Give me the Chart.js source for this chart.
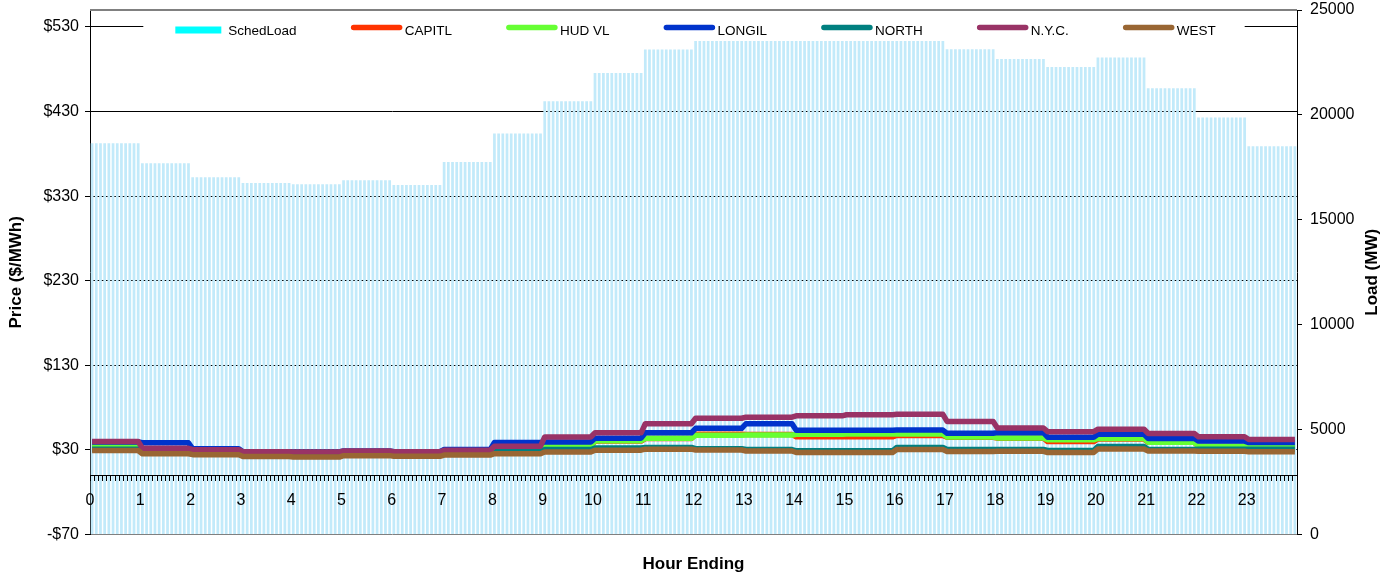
<!DOCTYPE html>
<html>
<head>
<meta charset="utf-8">
<script src="https://cdn.jsdelivr.net/npm/chart.js@4.4.1/dist/chart.umd.min.js"></script>
<style>
  html, body { margin: 0; padding: 0; background: #fff; }
</style>
</head>
<body>
<canvas id="myChart" width="1387" height="577"></canvas>
<script>
// hourly values, hour 0..23
const hours = [0, 1, 2, 3, 4, 5, 6, 7, 8, 9, 10, 11, 12, 13, 14, 15, 16, 17, 18, 19, 20, 21, 22, 23];
const schedLoad = [18650, 17700, 17030, 16760, 16700, 16890, 16660, 17760, 19110, 20650, 22000, 23120,
                   23520, 23520, 23520, 23520, 23520, 23130, 22660, 22280, 22740, 21270, 19880, 18510];
const capitl = [34.5, 31, 30, 27.5, 27, 28, 27.5, 29, 31.5, 34.5, 40.5, 43.5, 48.5, 48.2, 45.7, 45.6, 47.2, 45, 44, 40, 43, 39, 34.5, 34];
const hudVl  = [35, 31, 30, 27.5, 27, 28, 27.5, 29, 32, 35, 41, 43.8, 47.4, 47.6, 48.6, 49, 49, 45.4, 44.3, 42, 43.6, 39.2, 34.5, 34.2];
const longil = [39.5, 38.5, 31.5, 28, 27.6, 28.8, 28, 30.5, 38.9, 39.5, 44, 50.3, 55.6, 61, 53.3, 53.3, 53.5, 49.7, 50.5, 45.1, 48.5, 43.6, 40.5, 38.8];
const north  = [31, 28, 27, 25, 24.5, 26, 25, 27, 29, 30.5, 32.3, 33, 31.5, 30.5, 29, 29, 33, 30.5, 30.5, 29.5, 34.2, 30.5, 31, 31];
const nyc    = [40.1, 32, 30.4, 28, 27.6, 28.8, 28, 29.6, 34.5, 45.4, 50.3, 61, 67.5, 68.8, 70.4, 71.6, 72.2, 63.7, 56, 51.7, 54.5, 49.5, 45.6, 42.3];
const west   = [29.4, 25.5, 24.5, 22.3, 21.7, 23.3, 22.5, 24, 25.6, 27.6, 29.8, 31, 30, 28.8, 27, 27, 30.6, 28.2, 28.4, 27, 31.2, 28.7, 28.5, 27.8];

const priceTicks = [-70, 30, 130, 230, 330, 430, 530];
const loadTicks = [0, 5000, 10000, 15000, 20000, 25000];
const intervalsPerHour = 12;

// each hourly value is held over its twelve 5-minute intervals
function perInterval(values) {
    const out = [];
    values.forEach((v, h) => {
        for (let k = 0; k < intervalsPerHour; k++) {
            out.push({ x: hours[h] + (k + 0.5) / intervalsPerHour, y: v });
        }
    });
    return out;
}

const hourTicks = [];
for (let i = 0; i <= hours.length * intervalsPerHour; i++) hourTicks.push(i / intervalsPerHour);

function priceLine(label, values, color, order) {
    return {
        type: 'line',
        label: label,
        data: perInterval(values),
        yAxisID: 'y',
        borderColor: color,
        backgroundColor: color,
        borderWidth: 5.5,
        borderJoinStyle: 'round',
        pointRadius: 0,
        tension: 0,
        order: order,
    };
}

const FONT = 'Arial, "Liberation Sans", sans-serif';

// legend drawn inside the plot, on a white band
const insideLegend = {
    id: 'insideLegend',
    afterDraw(chart) {
        const { ctx, chartArea } = chart;
        const sets = chart.data.datasets;
        ctx.save();
        ctx.font = '13.5px ' + FONT;
        const symW = 50, textGap = 3, itemGap = 55;
        const widths = sets.map(d => symW + textGap + ctx.measureText(d.label).width);
        const total = widths.reduce((a, b) => a + b, 0) + itemGap * (sets.length - 1);
        let x = (chartArea.left + chartArea.right) / 2 - total / 2 + 2;
        const y = chartArea.top + 20.5;
        ctx.fillStyle = '#fff';
        ctx.fillRect(x - 32, chartArea.top + 8, total + 61, 22);
        sets.forEach((d, i) => {
            if (d.type === 'line') {
                ctx.strokeStyle = d.borderColor;
                ctx.lineWidth = 5.5;
                ctx.lineCap = 'round';
                ctx.beginPath();
                ctx.moveTo(x + 2, y - 3);
                ctx.lineTo(x + 48, y - 3);
                ctx.stroke();
            } else {
                ctx.fillStyle = '#00ffff';
                ctx.fillRect(x, y - 4, 46, 7);
            }
            ctx.fillStyle = '#000';
            ctx.textBaseline = 'middle';
            ctx.textAlign = 'left';
            ctx.fillText(d.label, x + symW + textGap, y + 0.5);
            x += widths[i] + itemGap;
        });
        ctx.restore();
    }
};

// gray top border + right axis title (reads bottom to top)
const frameExtras = {
    id: 'frameExtras',
    afterDraw(chart) {
        const { ctx, chartArea } = chart;
        ctx.save();
        ctx.strokeStyle = '#808080';
        ctx.lineWidth = 2;
        ctx.beginPath();
        ctx.moveTo(chartArea.left, chartArea.top);
        ctx.lineTo(chartArea.right, chartArea.top);
        ctx.stroke();
        ctx.translate(chart.width - 15, (chartArea.top + chartArea.bottom) / 2);
        ctx.rotate(-Math.PI / 2);
        ctx.font = 'bold 17px ' + FONT;
        ctx.fillStyle = '#000';
        ctx.textAlign = 'center';
        ctx.textBaseline = 'middle';
        ctx.fillText('Load (MW)', 0, 0);
        ctx.restore();
    }
};

function fixSide(s) {
    s.width = 90;
    s.paddingTop = 0;
    s.paddingBottom = 0;
}

const ctx = document.getElementById('myChart');

new Chart(ctx, {
    type: 'bar',
    data: {
        datasets: [
            {
                type: 'bar',
                label: 'SchedLoad',
                data: perInterval(schedLoad),
                yAxisID: 'y2',
                backgroundColor: '#c2eafa',
                borderWidth: 0,
                barPercentage: 0.65,
                categoryPercentage: 1,
                order: 10,
            },
            priceLine('CAPITL', capitl, '#ff3300', 6),
            priceLine('HUD VL', hudVl, '#66ff33', 5),
            priceLine('LONGIL', longil, '#0033cc', 4),
            priceLine('NORTH', north, '#008080', 3),
            priceLine('N.Y.C.', nyc, '#993366', 2),
            priceLine('WEST', west, '#996633', 1),
        ]
    },
    options: {
        responsive: false,
        devicePixelRatio: 1,
        animation: false,
        layout: { padding: { top: 10, left: 0, right: 0, bottom: 0 } },
        plugins: {
            legend: { display: false },
            tooltip: { enabled: false },
            title: {
                display: true,
                position: 'bottom',
                text: 'Hour Ending',
                color: '#000',
                font: { family: FONT, size: 17, weight: 'bold' },
                padding: { top: 20, bottom: 2 },
            },
        },
        scales: {
            x: {
                type: 'linear',
                position: { y: 0 },
                min: 0,
                max: 24,
                offset: false,
                afterBuildTicks: s => { s.ticks = hourTicks.map(v => ({ value: v })); },
                ticks: {
                    z: 1,
                    autoSkip: false,
                    maxRotation: 0,
                    minRotation: 0,
                    padding: 11,
                    color: '#000',
                    font: { family: FONT, size: 16 },
                    callback: (v, i) => (i % intervalsPerHour === 0 && i < hourTicks.length - 1) ? String(i / intervalsPerHour) : '',
                },
                grid: { z: 1, drawOnChartArea: false, offset: false, tickLength: 5, color: '#000', tickColor: '#000' },
                border: { z: 1, color: '#000', width: 1 },
            },
            y: {
                position: 'left',
                min: -70,
                max: 550,
                afterBuildTicks: s => { s.ticks = priceTicks.map(v => ({ value: v })); },
                afterFit: fixSide,
                ticks: {
                    padding: 6,
                    color: '#000',
                    font: { family: FONT, size: 16 },
                    callback: v => (v < 0 ? '-$' + (-v) : '$' + v),
                },
                grid: {
                    color: c => (c.tick && c.tick.value === priceTicks[0]) ? '#808080' : '#000',
                    tickColor: '#000',
                    tickLength: 5,
                    lineWidth: 1,
                },
                border: { color: '#000', width: 1 },
                title: {
                    display: true,
                    text: 'Price ($/MWh)',
                    color: '#000',
                    font: { family: FONT, size: 17, weight: 'bold' },
                    padding: { top: 6, bottom: 0 },
                },
            },
            y2: {
                position: 'right',
                min: 0,
                max: 25000,
                afterBuildTicks: s => { s.ticks = loadTicks.map(v => ({ value: v })); },
                afterFit: fixSide,
                ticks: {
                    padding: 8,
                    color: '#000',
                    font: { family: FONT, size: 16 },
                    callback: v => String(v),
                },
                grid: { drawOnChartArea: false, tickLength: 5, tickColor: '#000' },
                border: { color: '#000', width: 1 },
            },
        },
    },
    plugins: [insideLegend, frameExtras],
});
</script>
</body>
</html>
